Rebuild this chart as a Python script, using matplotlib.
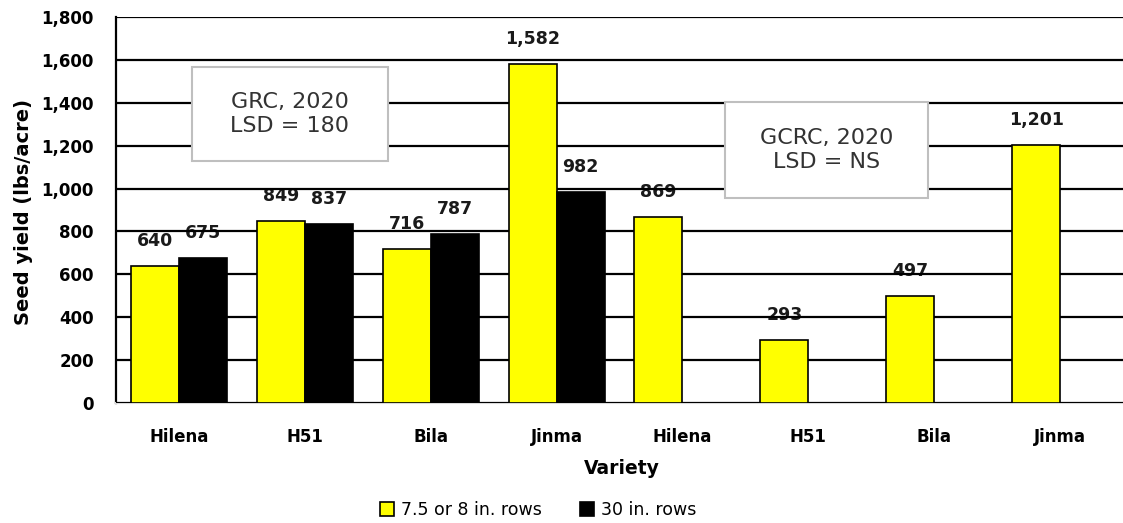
import numpy as np
import matplotlib
matplotlib.use('Agg')
import matplotlib.pyplot as plt
from matplotlib.patches import Rectangle

plt.rcParams['font.family'] = ['DejaVu Sans']

# data
aVariety = ['Hilena', 'H51', 'Bila', 'Jinma', 'Hilena', 'H51', 'Bila', 'Jinma']
aNarrow = [640, 849, 716, 1582, 869, 293, 497, 1201]            # 7.5 or 8 in. rows
aWide = [675, 837, 787, 982, np.nan, np.nan, np.nan, np.nan]   # 30 in. rows
aYticks = np.arange(0, 1801, 200)

fig = plt.figure(figsize=(11.23, 5.23), dpi=100)
ax = fig.add_axes([116/1123, 1 - 403/523, 1 - 116/1123, (403 - 17)/523])

x = np.arange(len(aVariety))
w = 0.381
b1 = ax.bar(x - w/2, aNarrow, w, color='#ffff00', edgecolor='black', linewidth=1.2,
            label='7.5 or 8 in. rows', zorder=3)
b2 = ax.bar(x + w/2, aWide, w, color='black', edgecolor='black', linewidth=1.2,
            label='30 in. rows', zorder=3)

# value labels (gridlines sit on top of them in the original)
for bars, vals in ((b1, aNarrow), (b2, aWide)):
    for rect, v in zip(bars, vals):
        if np.isnan(v):
            continue
        ax.annotate('{:,.0f}'.format(v), (rect.get_x() + rect.get_width()/2, v),
                    xytext=(0, 18), textcoords='offset points', ha='center', va='center',
                    fontsize=12.5, fontweight='bold', color='#1a1a1a', zorder=1)

ax.set_ylim(0, 1800)
ax.set_xlim(-0.5, len(aVariety) - 0.5)
ax.set_yticks(aYticks)
ax.set_yticklabels(['{:,}'.format(t) for t in aYticks], fontsize=12, fontweight='bold')
ax.set_xticks(x)
ax.set_xticklabels(aVariety, fontsize=12, fontweight='bold')
ax.tick_params(axis='both', length=0)
ax.tick_params(axis='x', pad=18)
ax.tick_params(axis='y', pad=16)

ax.yaxis.grid(True, color='black', linewidth=1.6, zorder=2)
ax.set_axisbelow(False)
for gl in ax.get_ygridlines():
    gl.set_zorder(2)

ax.spines['top'].set_visible(False)
ax.spines['right'].set_visible(False)
ax.spines['left'].set_linewidth(1.6)
ax.spines['bottom'].set_color('#d9d9d9')
ax.spines['bottom'].set_linewidth(1.5)

ax.set_ylabel('Seed yield (lbs/acre)', fontsize=14, fontweight='bold')
ax.yaxis.set_label_coords(-0.0824, 0.495)
ax.set_xlabel('Variety', fontsize=13.5, fontweight='bold')
ax.xaxis.set_label_coords(0.502, -0.145)

# site boxes
for (x0, y0, x1, y1, s) in ((192, 67, 388, 161, 'GRC, 2020\nLSD = 180'),
                            (725, 102, 928, 198, 'GCRC, 2020\nLSD = NS')):
    fig.patches.append(Rectangle((x0/1123, 1 - y1/523), (x1 - x0)/1123, (y1 - y0)/523,
                                 transform=fig.transFigure, facecolor='white',
                                 edgecolor='#bfbfbf', linewidth=1.5, zorder=5))
    fig.text((x0 + x1)/2/1123, 1 - (y0 + y1)/2/523, s, ha='center', va='center',
             fontsize=16, color='#333333', linespacing=1.3, zorder=6)

fig.legend(handles=[b1, b2], loc='center', bbox_to_anchor=(538/1123, 1 - 510/523),
           ncol=2, frameon=False, fontsize=12.5, handlelength=0.8, handleheight=0.8,
           handletextpad=0.4, columnspacing=2.2)

fig.savefig('out.png', dpi=100)
